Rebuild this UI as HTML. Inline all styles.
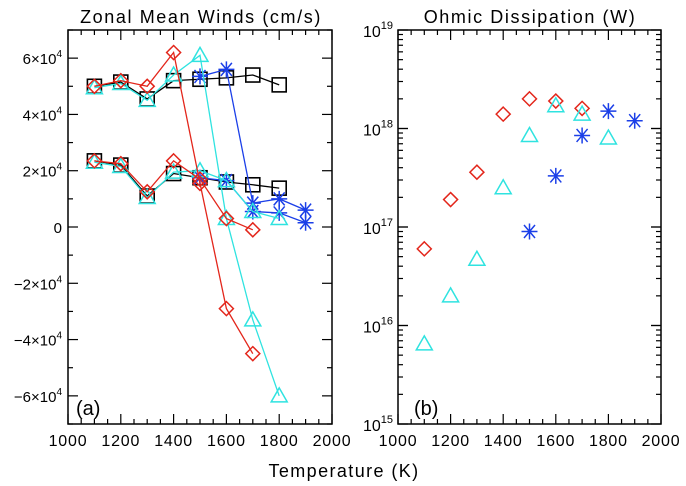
<!DOCTYPE html>
<html><head><meta charset="utf-8">
<style>
html,body{margin:0;padding:0;background:#fff;}
svg{display:block;font-family:"Liberation Sans","DejaVu Sans",sans-serif;}
</style></head>
<body>
<svg id="chart" width="686" height="486" viewBox="0 0 686 486" xmlns="http://www.w3.org/2000/svg">
<rect width="686" height="486" fill="#fff"/>
<g id="left"></g>
<g id="right"></g>
<text x="201" y="23" text-anchor="middle" font-size="18" letter-spacing="1.6">Zonal Mean Winds (cm/s)</text>
<text x="530" y="23" text-anchor="middle" font-size="18" letter-spacing="1.6">Ohmic Dissipation (W)</text>
<text x="344" y="477" text-anchor="middle" font-size="18" letter-spacing="1.4">Temperature (K)</text>
<text x="76" y="415" font-size="20">(a)</text>
<text x="414" y="415" font-size="20">(b)</text>
</svg>
<script>
const temps = [1100,1200,1300,1400,1500,1600,1700,1800,1900];
const redUpper   = [5.0e4,5.2e4,5.0e4,6.2e4,1.55e4,-2.9e4,-4.5e4];
const redLower   = [2.35e4,2.25e4,1.25e4,2.35e4,1.7e4,3e3,-1e3];
const cyanUpper  = [4.95e4,5.1e4,4.5e4,5.4e4,6.1e4,3e3,-3.3e4,-6e4];
const cyanLower  = [2.3e4,2.15e4,1.05e4,1.95e4,2.0e4,1.65e4,5.5e3,3e3];
const blackUpper = [5.0e4,5.15e4,4.55e4,5.2e4,5.25e4,5.3e4,5.4e4,5.05e4];
const blackLower = [2.35e4,2.2e4,1.1e4,1.9e4,1.75e4,1.6e4,1.5e4,1.38e4];
const blueTemps  = [1500,1600,1700,1800,1900];
const blueUpper  = [5.35e4,5.6e4,8.5e3,1.0e4,6e3];
const blueLower  = [1.75e4,1.65e4,5.5e3,5e3,1.5e3];
const ohmRed   = [6e16,1.9e17,3.6e17,1.4e18,2.0e18,1.9e18,1.6e18];
const ohmCyan  = [6.5e15,2e16,4.7e16,2.5e17,8.5e17,1.7e18,1.4e18,8e17];
const ohmBlue  = [9e16,3.3e17,8.5e17,1.5e18,1.2e18];
const xTicks = [1000,1200,1400,1600,1800,2000];
const yTicksL = [-6,-4,-2,0,2,4,6];
const yTicksR = [15,16,17,18,19];

const NS='http://www.w3.org/2000/svg';
const RED='#e3261b', CYAN='#2fe3e0', BLUE='#1b3fe8', BLACK='#000';
function mk(parent,tag,attrs){const e=document.createElementNS(NS,tag);for(const k in attrs)e.setAttribute(k,attrs[k]);parent.appendChild(e);return e;}

const L={x0:68,x1:332,y0:30,y1:424};
const R={x0:398,x1:661,y0:30,y1:424};
function sxL(t){return L.x0+(t-1000)/1000*(L.x1-L.x0);}
function sxR(t){return R.x0+(t-1000)/1000*(R.x1-R.x0);}
function syL(v){return L.y1-(v+7e4)/14e4*(L.y1-L.y0);}
function syR(v){return R.y1-(Math.log10(v)-15)/4*(R.y1-R.y0);}

function marker(g,type,x,y,c){
  let e;
  if(type==='square'){e=mk(g,'rect',{x:x-7,y:y-7,width:14,height:14,fill:'none',stroke:c,'stroke-width':1.6});}
  else if(type==='diamond'){e=mk(g,'path',{d:`M${x} ${y-7}L${x+7} ${y}L${x} ${y+7}L${x-7} ${y}Z`,fill:'none',stroke:c,'stroke-width':1.5});}
  else if(type==='triangle'){e=mk(g,'path',{d:`M${x} ${y-8}L${x+8} ${y+6}L${x-8} ${y+6}Z`,fill:'none',stroke:c,'stroke-width':1.5});}
  else {e=mk(g,'path',{d:`M${x-8} ${y}H${x+8}M${x-5.5} ${y-6.5}L${x+5.5} ${y+6.5}M${x-5.5} ${y+6.5}L${x+5.5} ${y-6.5}M${x} ${y-8}V${y+8}`,fill:'none',stroke:c,'stroke-width':1.5});}
  
  
}
function series(g,name,ts,vals,sx,sy,c,type,line){
  const sg=mk(g,'g',{});
  
  
  if(line){
    const pts=vals.map((v,i)=>sx(ts[i])+','+sy(v)).join(' ');
    const pl=mk(sg,'polyline',{points:pts,fill:'none',stroke:c,'stroke-width':1.3});
    
    
  }
  vals.forEach((v,i)=>marker(sg,type,sx(ts[i]),sy(v),c));
}

function frame(g,P,sx,name){
  const f=mk(g,'rect',{x:P.x0,y:P.y0,width:P.x1-P.x0,height:P.y1-P.y0,fill:'none',stroke:'#000','stroke-width':1.5});
  
  
  for(let t=1000;t<=2000;t+=50){
    const x=sx(t), len=(t%200===0)?10:5;
    mk(g,'line',{x1:x,x2:x,y1:P.y1,y2:P.y1-len,stroke:'#000','stroke-width':1.2});
    mk(g,'line',{x1:x,x2:x,y1:P.y0,y2:P.y0+len,stroke:'#000','stroke-width':1.2});
  }
  xTicks.forEach(t=>{
    const tx=mk(g,'text',{x:sx(t),y:P.y1+22,'text-anchor':'middle','font-size':16,'letter-spacing':0.8});
    tx.textContent=t;
    
    
  });
}

const gl=document.getElementById('left');
frame(gl,L,sxL,'left');
for(let v=-7e4;v<=7e4;v+=1e4){
  const y=syL(v), len=(v%2e4===0)?10:5;
  mk(gl,'line',{x1:L.x0,x2:L.x0+len,y1:y,y2:y,stroke:'#000','stroke-width':1.2});
  mk(gl,'line',{x1:L.x1,x2:L.x1-len,y1:y,y2:y,stroke:'#000','stroke-width':1.2});
}
yTicksL.forEach(k=>{
  const tx=mk(gl,'text',{x:62,y:syL(k*1e4)+6,'text-anchor':'end','font-size':15});
  if(k===0){tx.textContent='0';}
  else{tx.textContent=(k<0?'\u2212':'')+Math.abs(k)+'\u00d710';
    const s=mk(tx,'tspan',{dy:-7,'font-size':10});s.textContent='4';}
  
  
});
series(gl,'black-upper',temps,blackUpper,sxL,syL,BLACK,'square',true);
series(gl,'black-lower',temps,blackLower,sxL,syL,BLACK,'square',true);
series(gl,'blue-upper',blueTemps,blueUpper,sxL,syL,BLUE,'asterisk',true);
series(gl,'blue-lower',blueTemps,blueLower,sxL,syL,BLUE,'asterisk',true);
series(gl,'cyan-upper',temps,cyanUpper,sxL,syL,CYAN,'triangle',true);
series(gl,'cyan-lower',temps,cyanLower,sxL,syL,CYAN,'triangle',true);
series(gl,'red-upper',temps,redUpper,sxL,syL,RED,'diamond',true);
series(gl,'red-lower',temps,redLower,sxL,syL,RED,'diamond',true);

const gr=document.getElementById('right');
frame(gr,R,sxR,'right');
for(let d=15;d<19;d++){
  for(let m=1;m<=10;m++){
    const y=syR(m*Math.pow(10,d)), len=(m===1||m===10)?10:5;
    mk(gr,'line',{x1:R.x0,x2:R.x0+len,y1:y,y2:y,stroke:'#000','stroke-width':1.2});
    mk(gr,'line',{x1:R.x1,x2:R.x1-len,y1:y,y2:y,stroke:'#000','stroke-width':1.2});
  }
}
yTicksR.forEach(k=>{
  const tx=mk(gr,'text',{x:393,y:syR(Math.pow(10,k))+7,'text-anchor':'end','font-size':16});
  tx.textContent='10';
  const s=mk(tx,'tspan',{dy:-8,'font-size':11});s.textContent=k;
  
  
});
series(gr,'ohmic-red',temps,ohmRed,sxR,syR,RED,'diamond',false);
series(gr,'ohmic-cyan',temps,ohmCyan,sxR,syR,CYAN,'triangle',false);
series(gr,'ohmic-blue',blueTemps,ohmBlue,sxR,syR,BLUE,'asterisk',false);
</script>
</body></html>
